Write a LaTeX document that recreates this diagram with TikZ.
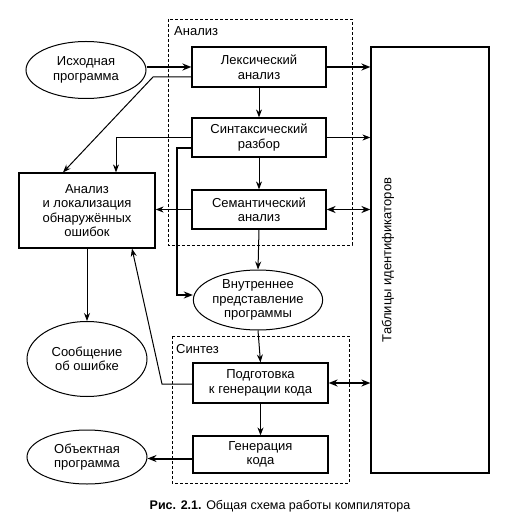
\documentclass[tikz,border=0pt]{standalone}
\usepackage{fontspec}
\setmainfont{Liberation Sans}
\usetikzlibrary{shapes.geometric,arrows.meta}
\begin{document}
\begin{tikzpicture}[x=1pt,y=-1pt,
  font=\fontsize{13}{14.5}\selectfont,
  every node/.style={inner sep=0pt},
  blk/.style={draw,line width=1.2pt,align=center,rectangle},
  ell/.style={draw,line width=1pt,align=center,ellipse},
  dbox/.style={draw,dashed,dash pattern=on 3pt off 2pt,line width=0.9pt},
  thin/.style={line width=1pt,-{Stealth[length=8pt,width=6pt]}},
  fat/.style={line width=2pt,-{Stealth[length=9pt,width=7pt]}},
  dbl/.style={line width=1.5pt,{Stealth[length=9pt,width=7pt]}-{Stealth[length=9pt,width=7pt]}},
  plain/.style={line width=1pt}]
\useasboundingbox (0,0) rectangle (521,521);
% dashed groups
\draw[dbox] (168,19) rectangle (352,245);
\draw[dbox] (172,336) rectangle (349,483);
\node[anchor=west] (tA) at (174,31) {Анализ};
\node[anchor=west] (tS) at (176,349) {Синтез};
% nodes
\node[ell,minimum width=120,minimum height=57] (src) at (86,70) {Исходная\\программа};
\node[blk,minimum width=134,minimum height=40] (lex) at (259,67) {Лексический\\анализ};
\node[blk,minimum width=134,minimum height=39] (syn) at (259,137.5) {Синтаксический\\разбор};
\node[blk,minimum width=134,minimum height=39] (sem) at (259,209.5) {Семантический\\анализ};
\node[blk,minimum width=118,minimum height=426] (tab) at (430,260) {};
\node[rotate=90] (tabt) at (388,260) {Таблицы идентификаторов};
\node[blk,minimum width=136,minimum height=75] (err) at (87,210.5) {Анализ\\и локализация\\обнаружённых\\ошибок};
\node[ell,minimum width=120,minimum height=75] (msg) at (87,359) {Сообщение\\об ошибке};
\node[ell,minimum width=120,minimum height=54] (obj) at (87,457) {Объектная\\программа};
\node[ell,minimum width=118,minimum height=60] (ir) at (258,300) {Внутреннее\\представление\\программы};
\node[blk,minimum width=135,minimum height=40] (prep) at (260.5,383) {Подготовка\\к генерации кода};
\node[blk,minimum width=135,minimum height=37] (gen) at (260.5,454.5) {Генерация\\кода};
% connectors
\draw[fat] (src.east|-lex.west) -- (lex.west);
\draw[fat] (lex.east) -- (lex.east-|tab.west);
\draw[thin] (lex.south) -- (syn.north);
\draw[thin] (syn.south) -- (sem.north);
\draw[thin] (sem.south) -- (ir.north);
\draw[thin] (ir.south) -- (prep.north);
\draw[thin] (prep.south) -- (gen.north);
\coordinate (k1) at (153,77);
\draw[thin] ([yshift=-10]lex.west) -- (k1) -- ([xshift=-24]err.north);
\draw[thin] (syn.west) -| ([xshift=29]err.north);
\draw[thin] (syn.east) -- (syn.east-|tab.west);
\coordinate (k2) at (177,148);
\draw[line width=1.6pt,-{Stealth[length=9pt,width=7pt]}] ([yshift=-10.5]syn.west) -- (k2) |- ([yshift=5]ir.west);
\draw[thin] (sem.west) -- (sem.west-|err.east);
\draw[dbl] (sem.east) -- (sem.east-|tab.west);
\draw[thin] (err.south) -- (msg.north);
\coordinate (k3) at (162,384);
\draw[thin] ([yshift=-1]prep.west) -- (k3) -- ([xshift=45]err.south);
\draw[dbl] (prep.east) -- (prep.east-|tab.west);
\draw[fat] ([yshift=-4]gen.west) -- ([yshift=-4]gen.west-|obj.east);
% caption
\node (cap) at (280,506) {\fontsize{12.5}{14}\selectfont\textbf{Рис. 2.1.} Общая схема работы компилятора};
\end{tikzpicture}
\end{document}
